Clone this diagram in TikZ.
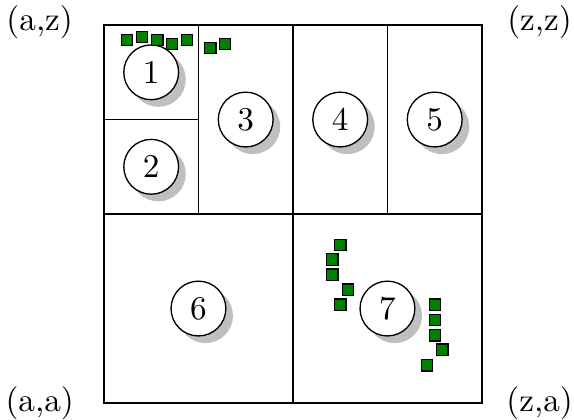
\documentclass[tikz,border=0pt]{standalone}
\usepackage{tikz}
\usetikzlibrary{shadows}

\begin{document}
\begin{tikzpicture}[
			region/.style={draw, circle, fill=white, minimum size=0.58cm, inner sep=0pt, drop shadow},
			pkt/.style={draw, rectangle, fill=green!50!black, minimum size=0.12cm, inner sep=0pt},
			corner/.style={inner sep=0pt}
			]
			\useasboundingbox (-1.1,-0.169) rectangle (4.974,4.265);
			
			% Partition
			\draw (0,0) rectangle (4,4);
			\draw (0,2) -- (4,2);
			\draw (2,0) -- (2,4);
			\draw (1,2) -- (1,4);
			\draw (3,2) -- (3,4);
			\draw (0,3) -- (1,3);
			
			% Regions
			\node[region] (R1) at (0.5,3.5) {1};
			\node[region] (R2) at (0.5,2.5) {2};
			\node[region] (R3) at (1.5,3) {3};
			\node[region] (R4) at (2.5,3) {4};
			\node[region] (R5) at (3.5,3) {5};
			\node[region] (R6) at (1,1) {6};
			\node[region] (R7) at (3,1) {7};
			
			% Corners
			\node[corner] (AZ) at (-0.68,4.03) {(a,z)};
			\node[corner] (ZZ) at (4.61,4.03) {(z,z)};
			\node[corner] (AA) at (-0.68,0) {(a,a)};
			\node[corner] (ZA) at (4.61,0) {(z,a)};
			
			% Points
			\foreach \x/\y [count=\i] in {0.243/3.841, 0.402/3.873, 0.566/3.841, 0.720/3.799, 0.878/3.841,
				1.127/3.757, 1.280/3.799,
				2.503/1.672, 2.418/1.519, 2.418/1.357, 2.582/1.201, 2.503/1.040,
				3.502/1.040, 3.502/0.880, 3.502/0.716, 3.580/0.564, 3.420/0.399}
				\node[pkt] (P\i) at (\x,\y) {};
			
		\end{tikzpicture}
\end{document}
